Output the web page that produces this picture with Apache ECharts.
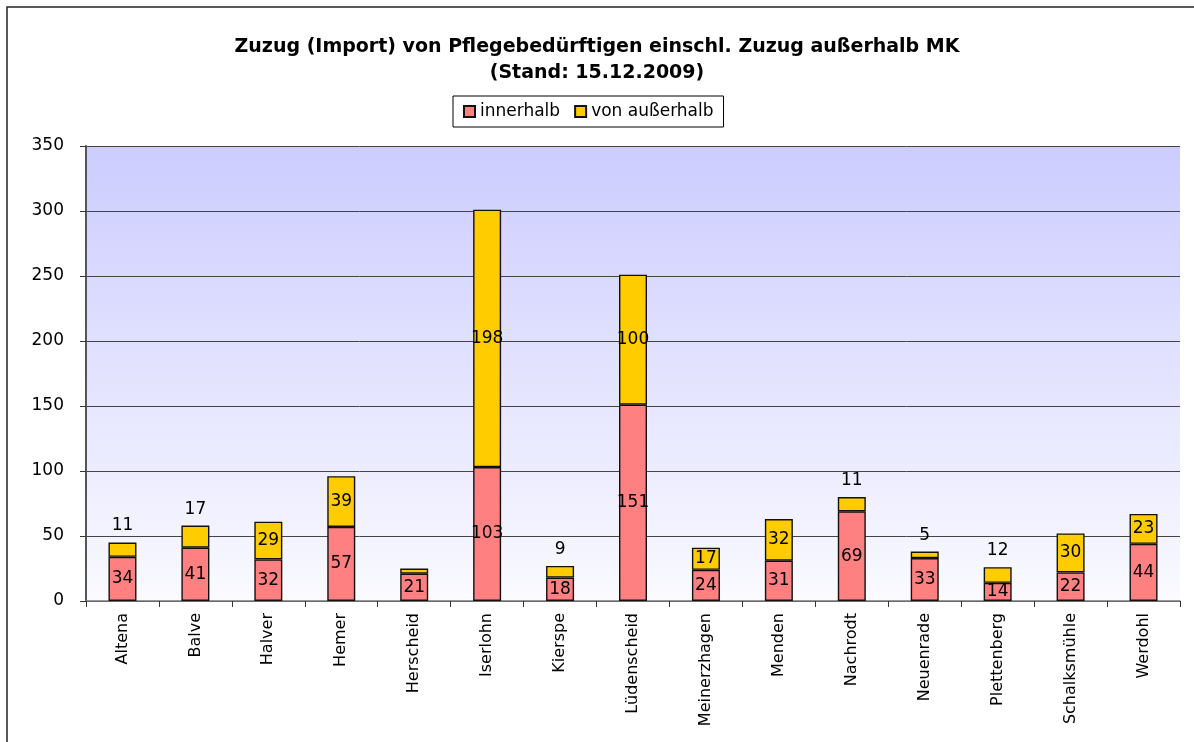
<!DOCTYPE html>
<html lang="de">
<head>
   <meta charset="utf-8">
   <title>Zuzug (Import) von Pflegebedürftigen</title>
   <script src="https://cdn.jsdelivr.net/npm/echarts@6.0.0/dist/echarts.min.js"></script>
   <style>
      html, body { margin: 0; padding: 0; background: #fff; }
      #chart { width: 1194px; height: 742px; }
   </style>
</head>
<body>
   <div id="chart"></div>
   <script>
      // Gemeinden im Märkischen Kreis
      var orte = ['Altena', 'Balve', 'Halver', 'Hemer', 'Herscheid', 'Iserlohn', 'Kierspe', 'Lüdenscheid',
         'Meinerzhagen', 'Menden', 'Nachrodt', 'Neuenrade', 'Plettenberg', 'Schalksmühle', 'Werdohl'];
      var innerhalb = [34, 41, 32, 57, 21, 103, 18, 151, 24, 31, 69, 33, 14, 22, 44];
      var ausserhalb = [11, 17, 29, 39, 4, 198, 9, 100, 17, 32, 11, 5, 12, 30, 23];
      var yTicks = [0, 50, 100, 150, 200, 250, 300, 350];

      // labels that sit above the bar in the original, and ones that are hidden
      var labelAbove = ['Altena', 'Balve', 'Kierspe', 'Nachrodt', 'Neuenrade', 'Plettenberg'];
      var labelHidden = ['Herscheid'];

      var font = 'DejaVu Sans';

      var myChart = echarts.init(document.getElementById('chart'), null, { renderer: 'canvas' });

      var option = {
         backgroundColor: '#fff',
         animation: false,
         title: {
            text: 'Zuzug (Import) von Pflegebedürftigen einschl. Zuzug außerhalb MK\n(Stand: 15.12.2009)',
            left: 'center',
            top: 29,
            textStyle: {
               fontFamily: font,
               fontSize: 19,
               fontWeight: 'bold',
               color: '#000',
               lineHeight: 26
            }
         },
         legend: {
            left: 453,
            top: 96,
            padding: [7, 10],
            itemGap: 14,
            itemWidth: 11,
            itemHeight: 11,
            borderColor: '#000',
            borderWidth: 1,
            icon: 'rect',
            textStyle: { fontFamily: font, fontSize: 17, color: '#000' }
         },
         grid: {
            left: 86,
            right: 14,
            top: 146,
            bottom: 141,
            show: true,
            borderWidth: 0,
            backgroundColor: new echarts.graphic.LinearGradient(0, 0, 0, 1, [
               { offset: 0, color: '#ccccff' },
               { offset: 1, color: '#fafaff' }
            ])
         },
         xAxis: {
            type: 'category',
            data: orte,
            axisLine: { lineStyle: { color: '#777', width: 1.5 } },
            axisTick: { show: true, length: 6, lineStyle: { color: '#333' } },
            axisLabel: {
               rotate: 90,
               margin: 12,
               interval: 0,
               fontFamily: font,
               fontSize: 16,
               color: '#000'
            }
         },
         yAxis: {
            type: 'value',
            min: yTicks[0],
            max: yTicks[yTicks.length - 1],
            interval: 50,
            axisLine: { show: true, lineStyle: { color: '#555', width: 2 } },
            axisTick: { show: true, length: 6, lineStyle: { color: '#333' } },
            axisLabel: { margin: 22, fontFamily: font, fontSize: 17, color: '#000' },
            splitLine: { lineStyle: { color: '#444', width: 1 } }
         },
         series: [
            {
               name: 'innerhalb',
               type: 'bar',
               stack: 'zuzug',
               barWidth: 28,
               itemStyle: { color: '#ff8080', borderColor: '#111', borderWidth: 1.4 },
               label: {
                  show: true,
                  position: 'inside',
                  fontFamily: font,
                  fontSize: 17,
                  color: '#000'
               },
               data: innerhalb
            },
            {
               name: 'von außerhalb',
               type: 'bar',
               stack: 'zuzug',
               barWidth: 28,
               itemStyle: { color: '#ffcc00', borderColor: '#111', borderWidth: 1.4 },
               label: {
                  show: true,
                  position: 'inside',
                  fontFamily: font,
                  fontSize: 17,
                  color: '#000'
               },
               data: ausserhalb.map(function(v, i) {
                  var item = { value: v };
                  if (labelHidden.indexOf(orte[i]) >= 0) {
                     item.label = { show: false };
                  } else if (labelAbove.indexOf(orte[i]) >= 0) {
                     item.label = { position: 'top', distance: 8 };
                  }
                  return item;
               })
            }
         ],
         graphic: [
            {
               type: 'rect',
               shape: { x: 7, y: 7, width: 1200, height: 800 },
               style: { fill: null, stroke: '#222', lineWidth: 1.5 },
               silent: true
            }
         ]
      };

      if (option && typeof option === 'object') {
         myChart.setOption(option);
      }
   </script>
</body>
</html>
